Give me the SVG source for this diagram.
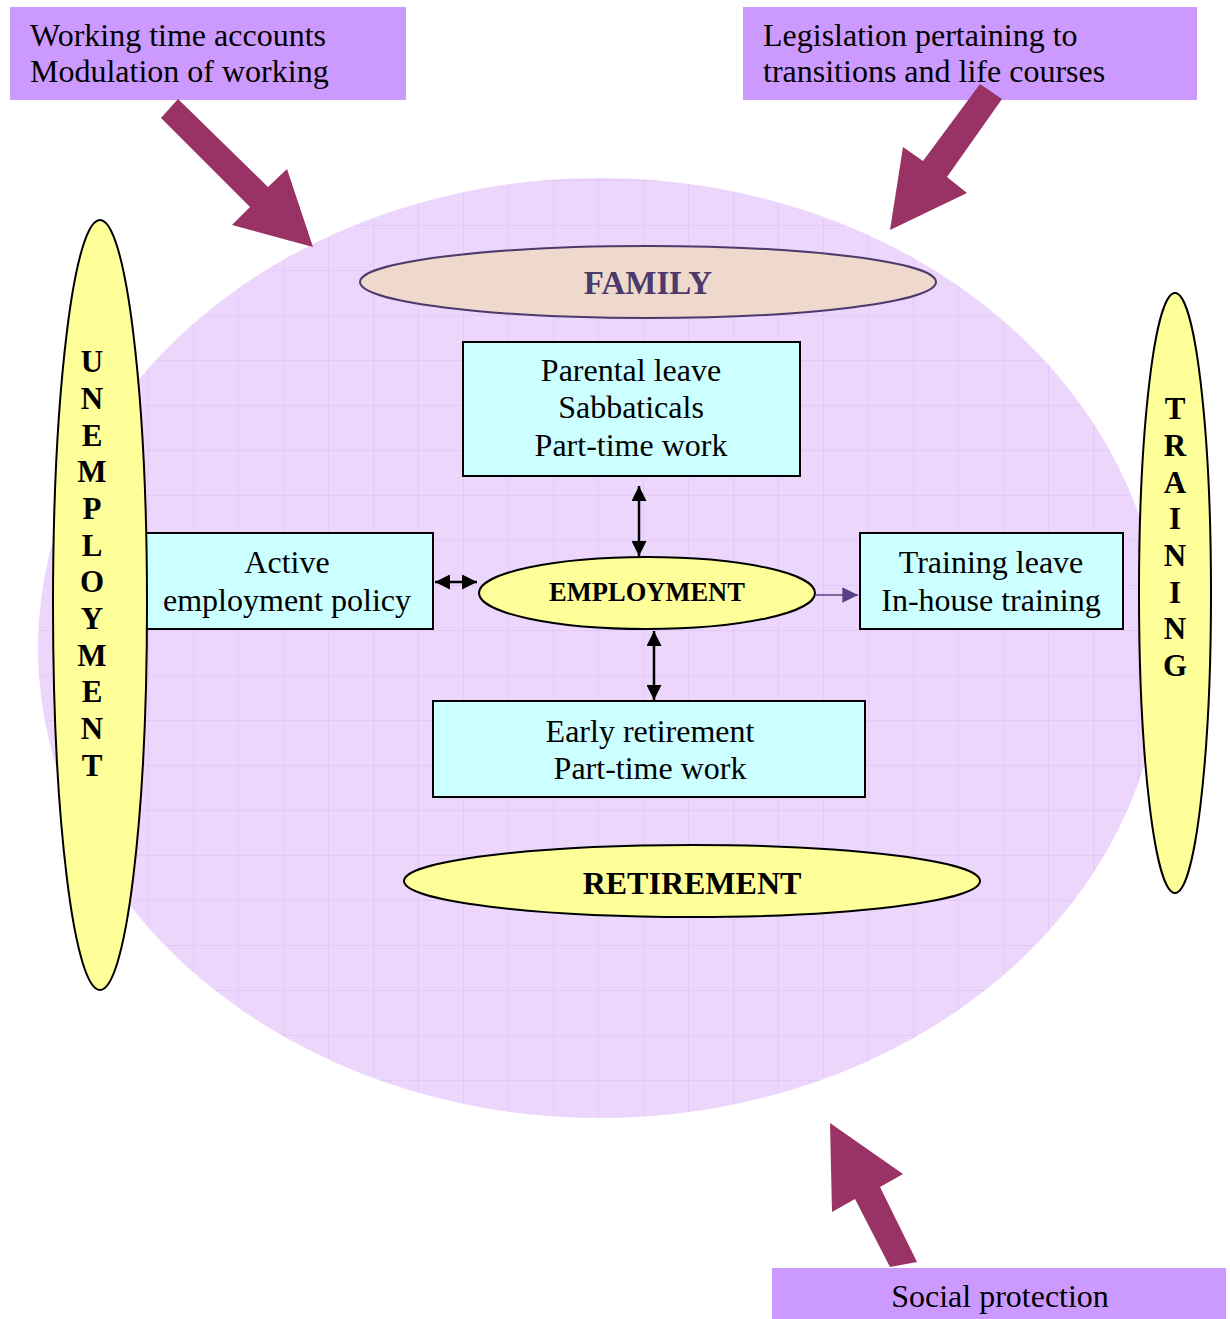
<svg xmlns="http://www.w3.org/2000/svg" width="1230" height="1319" viewBox="0 0 1230 1319">
<style>
.lbl{font-family:"Liberation Serif","Times New Roman",serif;font-size:32px;fill:#000}
.bold{font-family:"Liberation Serif","Times New Roman",serif;font-weight:bold;fill:#000}
.box{fill:#CCFFFF;stroke:#000;stroke-width:2}
.tag{fill:#CC99FF}
.yel{fill:#FFFF99;stroke:#000;stroke-width:2}
.big{fill:#993366}
.conn{stroke:#000;stroke-width:2.5;fill:none}
</style>
<defs>
<pattern id="grid" width="45" height="45" patternUnits="userSpaceOnUse" x="13" y="0">
<rect width="45" height="45" fill="#ECD6FC"/>
<path d="M0 0H45M0 0V45" stroke="#DDBAF7" stroke-width="1"/>
</pattern>
<marker id="ah" viewBox="0 0 10 10" refX="10" refY="5" markerWidth="6" markerHeight="6" orient="auto-start-reverse" markerUnits="strokeWidth">
<path d="M0 0L10 5L0 10Z" fill="#000"/>
</marker>
<marker id="ahp" viewBox="0 0 10 10" refX="10" refY="5" markerWidth="12" markerHeight="12" orient="auto" markerUnits="strokeWidth">
<path d="M0 0L10 5L0 10Z" fill="#5B3F85"/>
</marker>
</defs>
<rect width="1230" height="1319" fill="#fff"/>

<g id="life-circle"><ellipse cx="600" cy="648" rx="562" ry="470" fill="url(#grid)"/></g>

<g id="family"><ellipse cx="648" cy="282" rx="288" ry="36" fill="#EED9CC" stroke="#4B3A6B" stroke-width="2"/>
<text class="bold" x="648" y="294" font-size="33" text-anchor="middle" style="fill:#4B3A6B">FAMILY</text></g>

<g id="parental"><rect class="box" x="463" y="342" width="337" height="134"/>
<text class="lbl" x="631" y="381" text-anchor="middle">Parental leave</text>
<text class="lbl" x="631" y="418" text-anchor="middle">Sabbaticals</text>
<text class="lbl" x="631" y="456" text-anchor="middle">Part-time work</text></g>

<g id="active"><rect class="box" x="140" y="533" width="293" height="96"/>
<text class="lbl" x="287" y="573" text-anchor="middle">Active</text>
<text class="lbl" x="287" y="611" text-anchor="middle">employment policy</text></g>

<g id="employment"><ellipse class="yel" cx="647" cy="593" rx="168" ry="36"/>
<text class="bold" x="647" y="601" font-size="26.5" text-anchor="middle">EMPLOYMENT</text></g>

<g id="training-box"><rect class="box" x="860" y="533" width="263" height="96"/>
<text class="lbl" x="991" y="573" text-anchor="middle">Training leave</text>
<text class="lbl" x="991" y="611" text-anchor="middle">In-house training</text></g>

<g id="early"><rect class="box" x="433" y="701" width="432" height="96"/>
<text class="lbl" x="650" y="742" text-anchor="middle">Early retirement</text>
<text class="lbl" x="650" y="779" text-anchor="middle">Part-time work</text></g>

<g id="retirement"><ellipse class="yel" cx="692" cy="881" rx="288" ry="36"/>
<text class="bold" x="692" y="894" font-size="32" text-anchor="middle">RETIREMENT</text></g>

<g id="unemployment"><ellipse class="yel" cx="100" cy="605" rx="47" ry="385"/>
<g class="bold" font-size="31" text-anchor="middle">
<text x="92" y="372">U</text><text x="92" y="409">N</text><text x="92" y="446">E</text><text x="92" y="482">M</text>
<text x="92" y="519">P</text><text x="92" y="556">L</text><text x="92" y="592">O</text><text x="92" y="629">Y</text>
<text x="92" y="666">M</text><text x="92" y="702">E</text><text x="92" y="739">N</text><text x="92" y="776">T</text>
</g></g>

<g id="training"><ellipse class="yel" cx="1175" cy="593" rx="36" ry="300"/>
<g class="bold" font-size="31" text-anchor="middle">
<text x="1175" y="419">T</text><text x="1175" y="456">R</text><text x="1175" y="493">A</text><text x="1175" y="529">I</text>
<text x="1175" y="566">N</text><text x="1175" y="603">I</text><text x="1175" y="639">N</text><text x="1175" y="676">G</text>
</g></g>

<g id="working-time"><rect class="tag" x="10" y="7" width="396" height="93"/>
<text class="lbl" x="30" y="46">Working time accounts</text>
<text class="lbl" x="30" y="82">Modulation of working</text></g>

<g id="legislation"><rect class="tag" x="743" y="7" width="454" height="93"/>
<text class="lbl" x="763" y="46">Legislation pertaining to</text>
<text class="lbl" x="763" y="82">transitions and life courses</text></g>

<g id="social"><rect class="tag" x="772" y="1268" width="454" height="51"/>
<text class="lbl" x="1000" y="1307" text-anchor="middle">Social protection</text></g>

<g id="connectors">
<line class="conn" x1="639" y1="486" x2="639" y2="556" marker-start="url(#ah)" marker-end="url(#ah)"/>
<line class="conn" x1="435" y1="582" x2="477" y2="582" marker-start="url(#ah)" marker-end="url(#ah)"/>
<line class="conn" x1="654" y1="631" x2="654" y2="700" marker-start="url(#ah)" marker-end="url(#ah)"/>
<line x1="815" y1="595" x2="858" y2="595" stroke="#5B3F85" stroke-width="1.3" marker-end="url(#ahp)"/>
<polygon class="big" points="178,99 268,187 287,169 313,247 232,225 250,207 161,118"/>
<polygon class="big" points="980,84 1002,99 947,177 967,193 890,230 903,147 923,161"/>
<polygon class="big" points="830,1123 903,1174 880,1187 917,1262 890,1267 855,1199 832,1212"/>
</g>
</svg>
